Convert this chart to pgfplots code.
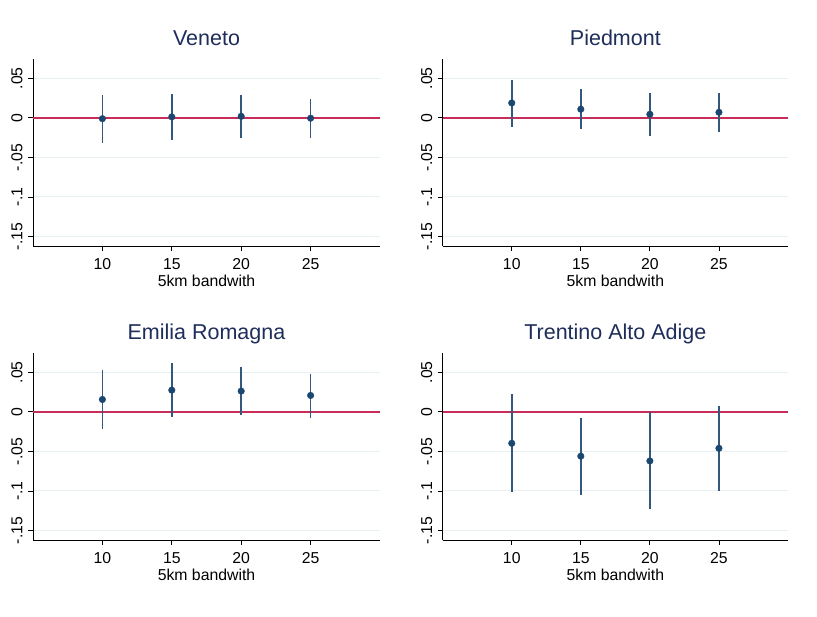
\documentclass[border=0pt]{standalone}
\usepackage{fontspec}
\setmainfont{Liberation Sans}
\usepackage{pgfplots}
\pgfplotsset{compat=1.18}
\usepackage{pgfplotstable}
\definecolor{stnavy}{RGB}{26,71,111}
\definecolor{stbar}{RGB}{50,88,125}
\definecolor{sttitle}{RGB}{30,45,90}
\definecolor{stred}{RGB}{200,45,90}
\definecolor{stgrid}{RGB}{230,240,242}

\pgfplotstableread{
x  y       lo       hi
10 -0.0010 -0.0314  0.0292
15  0.0013 -0.0280  0.0305
20  0.0020 -0.0250  0.0290
25 -0.0004 -0.0250  0.0240
}\veneto
\pgfplotstableread{
x  y       lo       hi
10  0.0189 -0.0110  0.0479
15  0.0110 -0.0143  0.0366
20  0.0046 -0.0227  0.0320
25  0.0071 -0.0176  0.0315
}\piedmont
\pgfplotstableread{
x  y       lo       hi
10  0.0157 -0.0216  0.0525
15  0.0275 -0.0068  0.0619
20  0.0263 -0.0038  0.0564
25  0.0208 -0.0072  0.0483
}\emilia
\pgfplotstableread{
x  y       lo       hi
10 -0.0397 -0.1017  0.0224
15 -0.0560 -0.1050 -0.0072
20 -0.0620 -0.1230  0.0000
25 -0.0460 -0.1000  0.0080
}\trentino

\pgfplotsset{panel/.style={
  scale only axis, width=347pt, height=187pt,
  xmin=5, xmax=30, ymin=-0.162, ymax=0.0745,
  axis lines=left, axis line style={-, black, line width=0.9pt},
  xtick={10,15,20,25}, xticklabels={10,15,20,25},
  ytick={-0.15,-0.1,-0.05,0,0.05}, yticklabels={-.15,-.1,-.05,0,.05},
  tick align=outside, major tick length=5pt, tick style={black, line width=0.8pt},
  ymajorgrids, grid style={stgrid, line width=1pt},
  ticklabel style={font=\fontsize{15.8}{18}\selectfont},
  xticklabel style={yshift=-4pt},
  yticklabel style={rotate=90, anchor=south},
  yticklabel shift=2pt,
  title style={font=\fontsize{21.5}{26}\selectfont, color=sttitle, at={(0.5,1)}, anchor=base, yshift=7.5pt},
  xlabel style={font=\fontsize{15.8}{18}\selectfont, at={(0.5,0)}, anchor=base, yshift=-40.5pt},
  xlabel={5km bandwith},
  clip=false,
}}
\pgfplotsset{zline/.style={stred, line width=1.8pt},
  est/.style={only marks, mark=*, mark size=3.3pt, color=stnavy,
    error bars/.cd, y dir=both, y explicit, error mark=none,
    error bar style={line width=1.7pt, stbar}}}

\begin{document}
\begin{tikzpicture}
\path[use as bounding box] (0pt,0pt) rectangle (817pt,617pt);

\begin{axis}[panel, at={(33pt,371pt)}, anchor=south west, title={Veneto}]
\addplot[zline] coordinates {(5,0) (30,0)};
\addplot[est] table[x=x, y=y, y error plus expr=\thisrow{hi}-\thisrow{y}, y error minus expr=\thisrow{y}-\thisrow{lo}] {\veneto};
\end{axis}

\begin{axis}[panel, width=345.3pt, at={(442.7pt,371pt)}, anchor=south west, title={Piedmont}]
\addplot[zline] coordinates {(5,0) (30,0)};
\addplot[est] table[x=x, y=y, y error plus expr=\thisrow{hi}-\thisrow{y}, y error minus expr=\thisrow{y}-\thisrow{lo}] {\piedmont};
\end{axis}

\begin{axis}[panel, at={(33pt,77pt)}, anchor=south west, title={Emilia Romagna}]
\addplot[zline] coordinates {(5,0) (30,0)};
\addplot[est] table[x=x, y=y, y error plus expr=\thisrow{hi}-\thisrow{y}, y error minus expr=\thisrow{y}-\thisrow{lo}] {\emilia};
\end{axis}

\begin{axis}[panel, width=345.3pt, at={(442.7pt,77pt)}, anchor=south west, title={Trentino Alto Adige}]
\addplot[zline] coordinates {(5,0) (30,0)};
\addplot[est] table[x=x, y=y, y error plus expr=\thisrow{hi}-\thisrow{y}, y error minus expr=\thisrow{y}-\thisrow{lo}] {\trentino};
\end{axis}
\end{tikzpicture}
\end{document}
